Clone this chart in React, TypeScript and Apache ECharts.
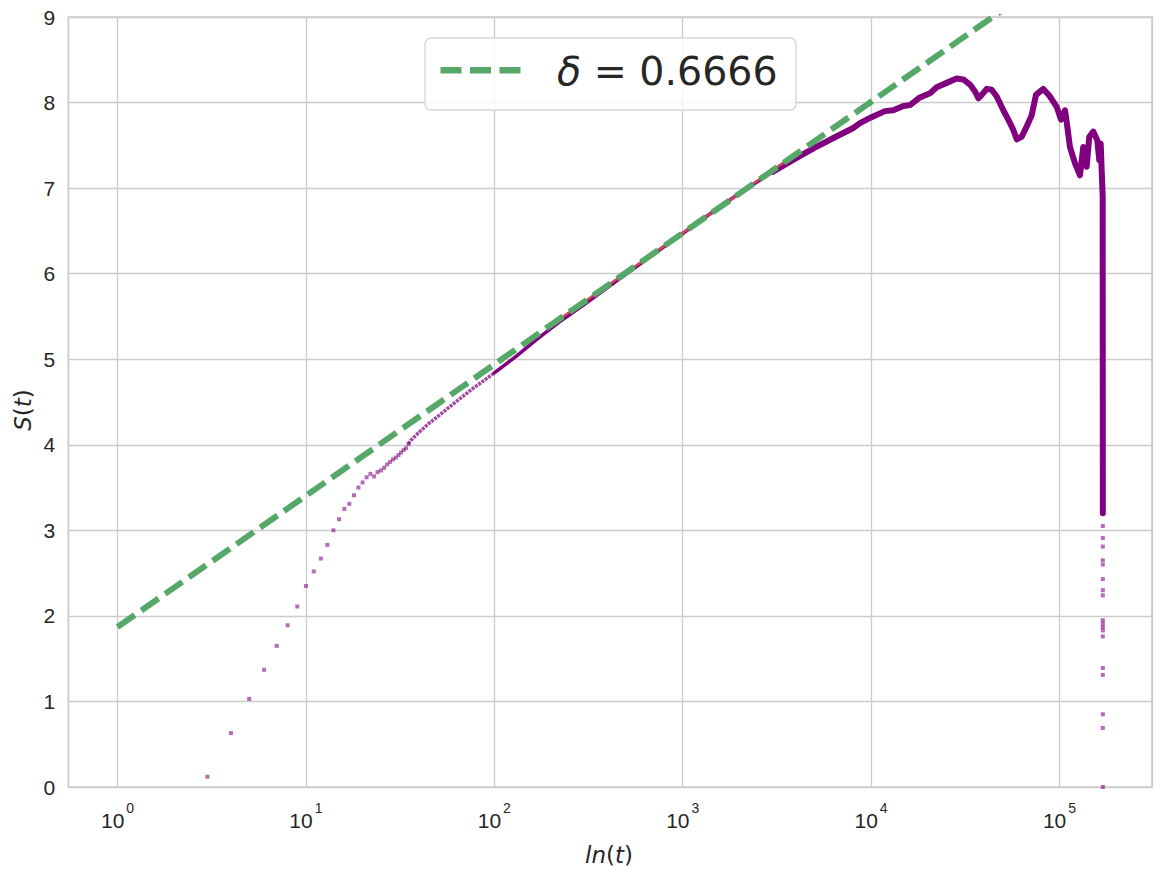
import React, { useEffect, useRef } from 'react';
import * as echarts from 'echarts';

// early sparse points (scatter)
const earlyT = [3, 4, 5, 6, 7, 8, 9, 10, 11, 12, 13, 14, 15, 16, 17, 18, 19, 20, 21, 22, 23, 24, 25, 26, 27, 28, 29, 30, 31, 32, 33, 34, 35];
const earlyS = [0.12, 0.63, 1.03, 1.37, 1.65, 1.89, 2.11, 2.35, 2.52, 2.67, 2.83, 3.0, 3.13, 3.25, 3.31, 3.41, 3.5, 3.56, 3.62, 3.66, 3.63, 3.68, 3.7, 3.73, 3.77, 3.8, 3.83, 3.85, 3.88, 3.91, 3.94, 3.96, 4.01];

// dense dotted part
const denseT = [35, 36, 40, 45, 50, 60, 75, 100];
const denseS = [4.01, 4.05, 4.15, 4.25, 4.33, 4.47, 4.64, 4.84];

// continuous middle part
const midT = [100, 130, 170, 220, 300, 400, 550, 700, 1000, 1400, 2000, 3000];
const midS = [4.84, 5.03, 5.24, 5.43, 5.64, 5.84, 6.06, 6.23, 6.47, 6.7, 6.94, 7.19];

// late part with fluctuations and final drop
const lateT = [3000, 4000, 5000, 6500, 8000, 8730, 9860, 11830, 13110, 14830, 16080, 18160, 20540, 22290, 25180, 28460, 30850, 33480, 35620, 37080, 38650, 41090, 43650, 46420, 50320, 53480, 56860, 59270, 62990, 66950, 71150, 75010, 82030, 89060, 96630, 101850, 106950, 109970, 113650, 120870, 128460, 133660, 139340, 143860, 151050, 158690, 162580, 165440, 169500, 169600, 169700, 169800];
const lateS = [7.19, 7.35, 7.47, 7.6, 7.7, 7.76, 7.82, 7.9, 7.91, 7.96, 7.97, 8.06, 8.11, 8.18, 8.23, 8.28, 8.27, 8.21, 8.13, 8.05, 8.09, 8.16, 8.15, 8.07, 7.91, 7.8, 7.68, 7.57, 7.6, 7.72, 7.85, 8.09, 8.16, 8.07, 7.95, 7.8, 7.91, 7.72, 7.48, 7.29, 7.15, 7.48, 7.25, 7.6, 7.66, 7.56, 7.33, 7.52, 6.9, 5.7, 4.5, 3.2];

// scattered points of the final drop
const dropT = [169800, 169800, 169800, 169800, 169800, 169800, 169800, 169800, 169800, 169800, 169800, 169800, 169800, 169800, 169800, 169800, 169800, 169800];
const dropS = [3.05, 2.91, 2.81, 2.65, 2.6, 2.43, 2.3, 2.24, 1.95, 1.91, 1.87, 1.83, 1.76, 1.39, 1.31, 0.85, 0.69, 0.0];

// fit lines (endpoints)
const fitT = [1, 180000];
const fitS = [1.87, 9.936];
const redT = [200, 4000];
const redS = [5.4, 7.4];

const yTicks = [0, 9, 1];
const legendLabel = 'δ = 0.6666';

const zip = (a: number[], b: number[]) => a.map((v, i) => [v, b[i]]);

const TEXT = '#262626';
const GRID = '#cccccc';
const PURPLE = '#800080';
const MARK = 'rgba(128,0,128,0.72)';

export default function App() {
  const ref = useRef<HTMLDivElement>(null);
  useEffect(() => {
    const chart = echarts.init(ref.current!, null, { renderer: 'svg' });
    chart.setOption({
      animation: false,
      backgroundColor: '#ffffff',
      grid: {
        left: 68.3,
        right: 10,
        top: 17,
        bottom: 88,
        show: true,
        borderColor: GRID,
        borderWidth: 1.6,
        backgroundColor: 'transparent',
      },
      xAxis: {
        type: 'log',
        logBase: 10,
        min: 0.548,
        max: 309700,
        axisLine: { show: false },
        axisTick: { show: false },
        minorTick: { show: false },
        splitLine: { show: true, lineStyle: { color: GRID, width: 1.3 } },
        axisLabel: {
          margin: 10,
          formatter: (v: number) => {
            const n = Math.log10(v);
            if (Math.abs(n - Math.round(n)) > 1e-6) return '';
            return `{b|10}{s|${Math.round(n)}}`;
          },
          rich: {
            b: { fontSize: 21, fontFamily: 'Liberation Sans', color: TEXT, lineHeight: 34, verticalAlign: 'bottom' },
            s: { fontSize: 14, fontFamily: 'Liberation Sans', color: TEXT, verticalAlign: 'top', padding: [4, 0, 0, 2] },
          },
        },
      },
      yAxis: {
        type: 'value',
        min: yTicks[0],
        max: yTicks[1],
        interval: yTicks[2],
        axisLine: { show: false },
        axisTick: { show: false },
        splitLine: { show: true, lineStyle: { color: GRID, width: 1.3 } },
        axisLabel: { margin: 13, fontSize: 21, fontFamily: 'Liberation Sans', color: TEXT },
      },
      series: [
        {
          type: 'scatter',
          data: zip(earlyT, earlyS),
          symbol: 'rect',
          symbolSize: 4,
          itemStyle: { color: MARK },
          silent: true,
        },
        {
          type: 'scatter',
          data: zip(dropT, dropS),
          symbol: 'rect',
          symbolSize: 4,
          itemStyle: { color: MARK },
          silent: true,
        },
        {
          type: 'line',
          data: zip(denseT, denseS),
          symbol: 'none',
          lineStyle: { color: MARK, width: 3.5, type: [3, 1] },
          silent: true,
        },
        {
          type: 'line',
          data: zip(midT, midS),
          symbol: 'none',
          lineStyle: { color: PURPLE, width: 3.5, cap: 'round', join: 'round' },
          silent: true,
        },
        {
          type: 'line',
          data: zip(lateT, lateS),
          symbol: 'none',
          lineStyle: { color: PURPLE, width: 6, cap: 'round', join: 'round' },
          silent: true,
        },
        {
          type: 'line',
          data: zip(redT, redS),
          symbol: 'none',
          lineStyle: { color: '#c44e52', width: 2.5 },
          silent: true,
        },
        {
          type: 'line',
          data: zip(fitT, fitS),
          symbol: 'none',
          clip: true,
          lineStyle: { color: '#55a868', width: 6, type: [21, 8], cap: 'butt' },
          silent: true,
        },
      ],
      graphic: [
        {
          type: 'rect',
          z: 100,
          shape: { x: 425, y: 38, width: 371, height: 72, r: 6 },
          style: { fill: 'rgba(255,255,255,0.8)', stroke: '#d6d6d6', lineWidth: 1.3 },
        },
        { type: 'rect', z: 101, shape: { x: 440.5, y: 67, width: 21, height: 6.5 }, style: { fill: '#55a868' } },
        { type: 'rect', z: 101, shape: { x: 470, y: 67, width: 21, height: 6.5 }, style: { fill: '#55a868' } },
        { type: 'rect', z: 101, shape: { x: 499.5, y: 67, width: 21, height: 6.5 }, style: { fill: '#55a868' } },
        {
          type: 'text',
          z: 101,
          x: 557,
          y: 71,
          style: {
            text: `{d|${legendLabel.slice(0, 1)}}${legendLabel.slice(1)}`,
            fontFamily: 'DejaVu Sans',
            fontSize: 39.5,
            fill: TEXT,
            verticalAlign: 'middle',
            align: 'left',
            rich: { d: { fontFamily: 'DejaVu Sans', fontStyle: 'italic', fontSize: 39.5, fill: TEXT } },
          },
        },
        {
          type: 'text',
          x: 609,
          y: 855,
          style: {
            text: '{i|ln}({i|t})',
            fontFamily: 'DejaVu Sans',
            fontSize: 23,
            fill: TEXT,
            align: 'center',
            verticalAlign: 'middle',
            rich: { i: { fontFamily: 'DejaVu Sans', fontStyle: 'italic', fontSize: 23, fill: TEXT } },
          },
        },
        {
          type: 'text',
          x: 22.5,
          y: 410,
          rotation: Math.PI / 2,
          style: {
            text: '{i|S}({i|t})',
            fontFamily: 'DejaVu Sans',
            fontSize: 23,
            fill: TEXT,
            align: 'center',
            verticalAlign: 'middle',
            rich: { i: { fontFamily: 'DejaVu Sans', fontStyle: 'italic', fontSize: 23, fill: TEXT } },
          },
        },
      ],
    });
    return () => chart.dispose();
  }, []);
  return (
    <div
      ref={ref}
      style={{ position: 'absolute', left: 0, top: 0, width: 1162, height: 875, background: '#fff' }}
    />
  );
}
